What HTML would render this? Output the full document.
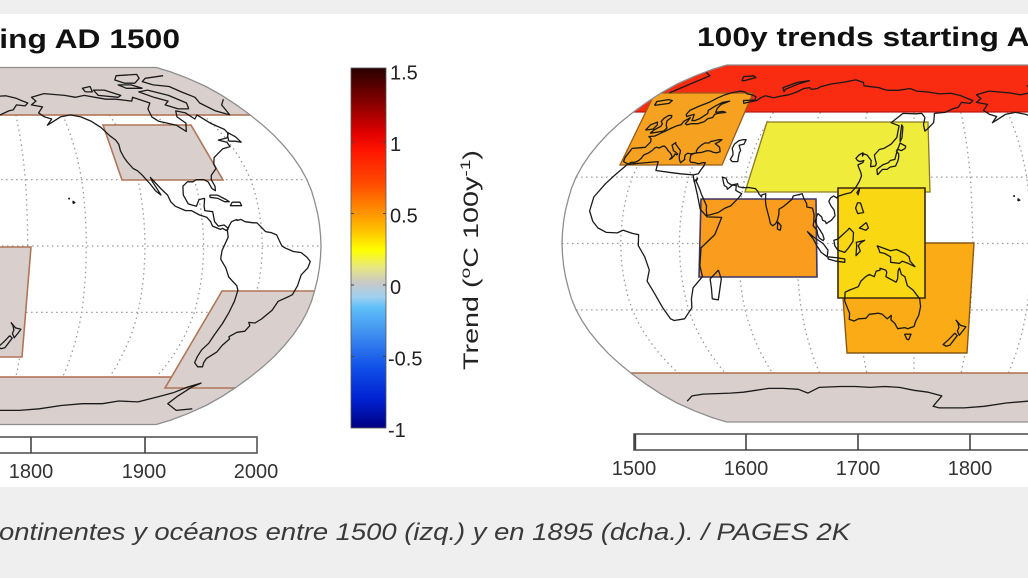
<!DOCTYPE html>
<html>
<head>
<meta charset="utf-8">
<style>
html,body{margin:0;padding:0;background:#fff;}
body{width:1028px;height:578px;overflow:hidden;}
svg{display:block;}
text{font-family:"Liberation Sans",Arial,sans-serif;}
</style>
</head>
<body>
<svg width="1028" height="578" viewBox="0 0 1028 578" xmlns="http://www.w3.org/2000/svg">
<defs>
  <clipPath id="robclip" clipPathUnits="userSpaceOnUse">
    <path d="M -187.3,-178.5 L 187.3,-178.5 L 201.4,-174.2 L 218.7,-167.7 L 237,-159.5 L 252.9,-150.6 L 267.4,-141.1 L 281.1,-131.1 L 293.9,-120.8 L 305.5,-110.2 L 315.5,-99.4 L 324.4,-88.5 L 331.8,-77.5 L 337.9,-66.4 L 342.5,-55.3 L 345.7,-44.3 L 348.5,-33.2 L 350.4,-22.1 L 351.5,-11.1 L 352,0 L 351.5,11.1 L 350.4,22.1 L 348.5,33.2 L 345.7,44.3 L 342.5,55.3 L 337.9,66.4 L 331.8,77.5 L 324.4,88.5 L 315.5,99.4 L 305.5,110.2 L 293.9,120.8 L 281.1,131.1 L 267.4,141.1 L 252.9,150.6 L 237,159.5 L 218.7,167.7 L 201.4,174.2 L 187.3,178.5 L -187.3,178.5 L -201.4,174.2 L -218.7,167.7 L -237,159.5 L -252.9,150.6 L -267.4,141.1 L -281.1,131.1 L -293.9,120.8 L -305.5,110.2 L -315.5,99.4 L -324.4,88.5 L -331.8,77.5 L -337.9,66.4 L -342.5,55.3 L -345.7,44.3 L -348.5,33.2 L -350.4,22.1 L -351.5,11.1 L -352,0 L -351.5,-11.1 L -350.4,-22.1 L -348.5,-33.2 L -345.7,-44.3 L -342.5,-55.3 L -337.9,-66.4 L -331.8,-77.5 L -324.4,-88.5 L -315.5,-99.4 L -305.5,-110.2 L -293.9,-120.8 L -281.1,-131.1 L -267.4,-141.1 L -252.9,-150.6 L -237,-159.5 L -218.7,-167.7 L -201.4,-174.2 Z"/>
  </clipPath>
  <path id="outline" d="M -187.3,-178.5 L 187.3,-178.5 L 201.4,-174.2 L 218.7,-167.7 L 237,-159.5 L 252.9,-150.6 L 267.4,-141.1 L 281.1,-131.1 L 293.9,-120.8 L 305.5,-110.2 L 315.5,-99.4 L 324.4,-88.5 L 331.8,-77.5 L 337.9,-66.4 L 342.5,-55.3 L 345.7,-44.3 L 348.5,-33.2 L 350.4,-22.1 L 351.5,-11.1 L 352,0 L 351.5,11.1 L 350.4,22.1 L 348.5,33.2 L 345.7,44.3 L 342.5,55.3 L 337.9,66.4 L 331.8,77.5 L 324.4,88.5 L 315.5,99.4 L 305.5,110.2 L 293.9,120.8 L 281.1,131.1 L 267.4,141.1 L 252.9,150.6 L 237,159.5 L 218.7,167.7 L 201.4,174.2 L 187.3,178.5 L -187.3,178.5 L -201.4,174.2 L -218.7,167.7 L -237,159.5 L -252.9,150.6 L -267.4,141.1 L -281.1,131.1 L -293.9,120.8 L -305.5,110.2 L -315.5,99.4 L -324.4,88.5 L -331.8,77.5 L -337.9,66.4 L -342.5,55.3 L -345.7,44.3 L -348.5,33.2 L -350.4,22.1 L -351.5,11.1 L -352,0 L -351.5,-11.1 L -350.4,-22.1 L -348.5,-33.2 L -345.7,-44.3 L -342.5,-55.3 L -337.9,-66.4 L -331.8,-77.5 L -324.4,-88.5 L -315.5,-99.4 L -305.5,-110.2 L -293.9,-120.8 L -281.1,-131.1 L -267.4,-141.1 L -252.9,-150.6 L -237,-159.5 L -218.7,-167.7 L -201.4,-174.2 Z"/>
  <path id="mer" d="M 281.1,-131.1 L 293.9,-120.8 L 305.5,-110.2 L 315.5,-99.4 L 324.4,-88.5 L 331.8,-77.5 L 337.9,-66.4 L 342.5,-55.3 L 345.7,-44.3 L 348.5,-33.2 L 350.4,-22.1 L 351.5,-11.1 L 352,0 L 351.5,11.1 L 350.4,22.1 L 348.5,33.2 L 345.7,44.3 L 342.5,55.3 L 337.9,66.4 L 331.8,77.5 L 324.4,88.5 L 315.5,99.4 L 305.5,110.2 L 293.9,120.8 L 281.1,131.1" fill="none" stroke="#9a9a9a" stroke-width="1.3" stroke-dasharray="1.5 3.5" vector-effect="non-scaling-stroke"/>
  <g id="grat" fill="none" stroke="#9a9a9a" stroke-width="1.3" stroke-dasharray="1.5 3.5">
    <line x1="-352" y1="0" x2="352" y2="0"/>
    <line x1="-337.9" y1="-66.4" x2="337.9" y2="-66.4"/>
    <line x1="-337.9" y1="66.4" x2="337.9" y2="66.4"/>
    <line x1="0" y1="-131.1" x2="0" y2="131.1"/>
    <use href="#mer" transform="scale(0.16667,1)"/>
    <use href="#mer" transform="scale(0.33333,1)"/>
    <use href="#mer" transform="scale(0.5,1)"/>
    <use href="#mer" transform="scale(0.66667,1)"/>
    <use href="#mer" transform="scale(0.83333,1)"/>
    <use href="#mer" transform="scale(-0.16667,1)"/>
    <use href="#mer" transform="scale(-0.33333,1)"/>
    <use href="#mer" transform="scale(-0.5,1)"/>
    <use href="#mer" transform="scale(-0.66667,1)"/>
    <use href="#mer" transform="scale(-0.83333,1)"/>
  </g>
  <linearGradient id="cbar" x1="0" y1="0" x2="0" y2="1">
    <stop offset="0" stop-color="#2a0000"/>
    <stop offset="0.09" stop-color="#800000"/>
    <stop offset="0.18" stop-color="#e00000"/>
    <stop offset="0.228" stop-color="#ff1400"/>
    <stop offset="0.320" stop-color="#ff4a00"/>
    <stop offset="0.394" stop-color="#ff8c00"/>
    <stop offset="0.45" stop-color="#ffc000"/>
    <stop offset="0.506" stop-color="#ffff00"/>
    <stop offset="0.553" stop-color="#e8e880"/>
    <stop offset="0.597" stop-color="#c8c8c8"/>
    <stop offset="0.636" stop-color="#a0d0f0"/>
    <stop offset="0.664" stop-color="#60c0f8"/>
    <stop offset="0.736" stop-color="#4090f0"/>
    <stop offset="0.831" stop-color="#1050e8"/>
    <stop offset="0.922" stop-color="#0020d0"/>
    <stop offset="1" stop-color="#000080"/>
  </linearGradient>
</defs>

<!-- background strips -->
<rect x="0" y="0" width="1028" height="14" fill="#efefef"/>
<rect x="0" y="14" width="1028" height="473" fill="#ffffff"/>
<rect x="0" y="487" width="1028" height="91" fill="#efefef"/>

<!-- titles -->
<text x="-255" y="48" font-size="27" font-weight="bold" fill="#111" textLength="435" lengthAdjust="spacingAndGlyphs">100y trends starting AD 1500</text>
<text x="697" y="46" font-size="27" font-weight="bold" fill="#111" textLength="435" lengthAdjust="spacingAndGlyphs">100y trends starting AD 1895</text>

<!-- LEFT MAP -->
<g transform="translate(-31,246)">
  <g clip-path="url(#robclip)">
    <use href="#grat"/>
    <g fill="#d9d0cd" stroke="#b07558" stroke-width="1.6">
      <rect x="-400" y="-182" width="800" height="51"/>
      <polygon points="134,-121 222,-121 254,-66 153,-66"/>
      <rect x="-400" y="131" width="800" height="52"/>
      <polygon points="253,45 451,45 451,142 196,142"/>
      <polygon points="-29,1 62,1 53,111 -29,111"/>
    </g>
    <path id="coastL" d="" fill="none" stroke="#1a1a1a" stroke-width="1.3" stroke-linejoin="round"/>
  </g>
  <use href="#outline" fill="none" stroke="#8e8e8e" stroke-width="1.3"/>
</g>

<!-- RIGHT MAP -->
<g transform="translate(914,243.5)">
  <g clip-path="url(#robclip)">
    <use href="#grat"/>
    <rect x="-400" y="-182" width="800" height="50.5" fill="#f92b10" stroke="#b01a10" stroke-width="1.2"/>
    <polygon points="-259,-150.5 -161,-150.5 -192,-78.5 -294,-78.5" fill="#f6a11f" stroke="#9a5a1a" stroke-width="1.3"/>
    <polygon points="-147,-121.5 14,-121.5 16,-51.5 -169,-51.5" fill="#efec3c" stroke="#8a7a20" stroke-width="1.3"/>
    <polygon points="-213,-44.5 -98,-44.5 -97,33.5 -215,33.5" fill="#fa9c1e" stroke="#3e3566" stroke-width="1.6"/>
    <polygon points="-75,-0.5 60,-0.5 53,109.5 -67,109.5" fill="#fbab16" stroke="#8a5a14" stroke-width="1.4"/>
    <polygon points="-76,-55.5 11,-55.5 11,54.5 -76,54.5" fill="#f9d712" stroke="#3a2810" stroke-width="1.6"/>
    <rect x="-400" y="129.5" width="800" height="52" fill="#d9d0cd" stroke="#b07558" stroke-width="1.6"/>
    <path id="coastR" d="" fill="none" stroke="#1a1a1a" stroke-width="1.3" stroke-linejoin="round"/>
  </g>
  <use href="#outline" fill="none" stroke="#8e8e8e" stroke-width="1.3"/>
</g>

<!-- colorbar -->
<rect x="351" y="68" width="35" height="360" fill="url(#cbar)" stroke="#555" stroke-width="0.8"/>
<g stroke="#444" stroke-width="1">
  <line x1="351" y1="142" x2="354" y2="142"/><line x1="383" y1="142" x2="386" y2="142"/>
  <line x1="351" y1="213.5" x2="354" y2="213.5"/><line x1="383" y1="213.5" x2="386" y2="213.5"/>
  <line x1="351" y1="285" x2="354" y2="285"/><line x1="383" y1="285" x2="386" y2="285"/>
  <line x1="351" y1="356.5" x2="354" y2="356.5"/><line x1="383" y1="356.5" x2="386" y2="356.5"/>
</g>
<g font-size="20" fill="#222">
  <text x="390" y="79.5">1.5</text>
  <text x="390" y="151">1</text>
  <text x="390" y="222.5">0.5</text>
  <text x="390" y="294">0</text>
  <text x="388" y="365.5">-0.5</text>
  <text x="388" y="437">-1</text>
</g>
<text transform="translate(478,370) rotate(-90)" font-size="21" fill="#222" textLength="220" lengthAdjust="spacingAndGlyphs">Trend (<tspan font-size="14" dy="-8">o</tspan><tspan dy="8">C 100y</tspan><tspan font-size="14" dy="-8">-1</tspan><tspan dy="8">)</tspan></text>

<!-- timelines -->
<g fill="#fff" stroke="#555" stroke-width="1.6">
  <rect x="-320" y="437" width="577" height="16"/>
  <rect x="634" y="434" width="480" height="16"/>
</g>
<g stroke="#444" stroke-width="1.6">
  <line x1="31" y1="437" x2="31" y2="453"/>
  <line x1="145" y1="437" x2="145" y2="453"/>
  <line x1="635" y1="434" x2="635" y2="450" stroke-width="2.4"/>
  <line x1="746" y1="434" x2="746" y2="450"/>
  <line x1="858" y1="434" x2="858" y2="450"/>
  <line x1="970" y1="434" x2="970" y2="450"/>
</g>
<g font-size="20" fill="#333" text-anchor="middle">
  <text x="31" y="478">1800</text>
  <text x="144" y="478">1900</text>
  <text x="256" y="478">2000</text>
  <text x="634" y="475">1500</text>
  <text x="746" y="475">1600</text>
  <text x="858" y="475">1700</text>
  <text x="970" y="475">1800</text>
</g>

<!-- caption -->
<text x="-1" y="540" font-size="24" font-style="italic" fill="#3a3a3a" textLength="851" lengthAdjust="spacingAndGlyphs">ontinentes y océanos entre 1500 (izq.) y en 1895 (dcha.). / PAGES 2K</text>
</svg>

<script>
(function(){
var XT=[1,0.9986,0.9954,0.99,0.9822,0.973,0.96,0.9427,0.9216,0.8962,0.8679,0.835,0.7986,0.7597,0.7186,0.6732,0.6213,0.5722,0.5322];
var YT=[0,0.062,0.124,0.186,0.248,0.31,0.372,0.434,0.4958,0.5571,0.6176,0.6769,0.7346,0.7903,0.8435,0.8936,0.9394,0.9761,1];
function rob(lat,lon){
  var a=Math.min(Math.abs(lat),90)/5;var i=Math.min(Math.floor(a),17);var f=a-i;
  var X=XT[i]+(XT[i+1]-XT[i])*f;var Y=YT[i]+(YT[i+1]-YT[i])*f;
  var d=(((lon-150)%360)+540)%360-180;
  return [352*X*d/180,-(lat<0?-1:1)*178.5*Y,d];
}
var P=[
[[71,-156],[70,-142],[69,-135],[70,-128],[68,-115],[68,-108],[67,-98],[69,-95],[66,-87],[63,-92],[59,-94],[57,-92],[55,-83],[52,-80],[56,-76],[59,-78],[62,-75],[61,-70],[58,-68],[60,-64],[56,-61],[53,-56],[51,-56],[49,-59],[48,-65],[47,-61],[45,-61],[44,-66],[42,-70],[41,-72],[40,-74],[37,-76],[35,-76],[32,-80],[30,-81],[27,-80],[25,-80.5],[26,-82],[29,-83],[30,-85],[30,-89],[29,-91],[29,-94],[27,-97],[23,-97.8],[19,-96],[18.5,-94],[18,-92],[21,-90],[21.5,-87],[18,-88],[16,-88],[15.5,-84],[11,-83.7],[9,-82],[9.5,-79],[8,-77],[7,-78],[8,-80],[7.5,-81],[9,-85],[11,-85.7],[13,-87.5],[14,-91],[16,-95],[16,-98],[18,-103],[20,-105],[23,-106],[26,-109],[31,-113],[29,-112.5],[25,-110.5],[23,-109.5],[25,-112],[28,-114],[32,-117],[34,-119],[35,-121],[38,-123],[40,-124],[43,-124.5],[46,-124],[48,-124.7],[50,-127],[54,-130],[57,-134],[59,-139],[60,-145],[59,-152],[57,-157],[55,-162],[58,-158],[59,-162],[61,-165],[64,-161],[65,-168],[67,-164],[69,-166],[71,-156]],
[[60,-43],[65,-40],[68,-33],[70,-24],[75,-20],[80,-18],[83,-30],[82,-45],[80,-65],[78,-72],[76,-68],[75,-58],[72,-55],[69,-51],[66,-53],[62,-49],[60,-43]],
[[63,-65],[66,-62],[70,-68],[73,-78],[72,-86],[69,-80],[67,-73],[65,-78],[63,-72],[63,-65]],
[[69,-105],[70,-118],[73,-118],[73,-110],[70,-102],[69,-105]],
[[77,-80],[80,-70],[83,-65],[82,-85],[79,-92],[77,-88],[77,-80]],
[[72,-125],[74,-125],[75,-118],[72,-120],[72,-125]],
[[74,-80],[76,-85],[76,-95],[74,-92],[74,-80]],
[[47.5,-59.3],[49.5,-58],[51.5,-55.8],[49.5,-53.5],[47,-52.7],[47.5,-55.7],[47.5,-59.3]],
[[23,-84],[23,-80],[21,-76],[20,-74.5],[20,-77],[21.5,-80],[22,-84],[23,-84]],
[[19.8,-73],[19.8,-69],[18.2,-68.5],[18.2,-74.3],[19.8,-73]],
[[12,-72],[11,-75],[9,-76.5],[7,-77.5],[4,-77.3],[1,-79],[-2,-80.5],[-5,-81],[-6,-81],[-10,-78],[-14,-76],[-18,-71],[-20,-70],[-25,-70.5],[-30,-71.5],[-35,-72.5],[-40,-73.7],[-44,-74],[-47,-75.5],[-50,-75.3],[-53,-74],[-55,-70],[-55,-67],[-53,-68.5],[-51,-69],[-48,-65.8],[-45,-65.5],[-42,-63.8],[-41,-65],[-39,-62],[-38.5,-58],[-36,-57],[-34.5,-58.5],[-34.8,-55],[-33,-52.5],[-29,-49],[-25,-47.5],[-23,-43],[-22,-41],[-18,-39.5],[-13,-38.8],[-10,-36],[-7,-35],[-5,-37],[-3,-40],[-2.5,-44],[-1,-48],[0,-50],[2,-51],[5,-52.5],[6,-55],[6.5,-58],[8.5,-60],[10.5,-62],[10.5,-64],[11,-68],[12,-70],[11.5,-72],[12,-72]],
[[-65,-60],[-70,-62],[-74,-61],[-78,-45],[-77,-35],[-74,-20],[-71,-10],[-70,0],[-69.5,20],[-69,30],[-68,40],[-67,50],[-67,60],[-67.5,70],[-69.5,75],[-66.5,85],[-66,100],[-66,110],[-66.5,120],[-66,130],[-66.5,140],[-68,150],[-69,160],[-71,170],[-77,165],[-78,170],[-78,180],[-78,-170],[-77,-155],[-75,-140],[-74,-125],[-74,-110],[-72.5,-100],[-73,-85],[-70,-75],[-68,-68],[-65,-63],[-63,-57],[-65,-60]],
[[35.8,-5.9],[37,10],[33,11],[32,20],[31.5,25],[31,32],[29.9,32.5],[22,36.8],[15.5,39.5],[12,43.5],[11.8,51],[4,48],[-2,41],[-10,40],[-15,40.7],[-20,35],[-25,33],[-29,32],[-34,26],[-34.8,20],[-34,18.4],[-29,16.5],[-22,14],[-17,11.7],[-12,13.7],[-6,12],[-1,9],[4,9],[4.5,6],[6,1],[4.8,-2],[5,-7.5],[7,-12],[10,-15],[14.7,-17.5],[21,-17],[27,-13],[31,-9.8],[35.8,-5.9]],
[[-12,49.3],[-16,50.3],[-25.5,47],[-25,44],[-20,44.5],[-16,44.5],[-12,49.3]],
[[36,-6],[37,-9],[39,-9.5],[43,-9],[43.5,-2],[46,-1.2],[47.5,-2.5],[48.5,-4.7],[48.7,-1.5],[49.5,0],[50.5,1.5],[51,2.5],[52.5,4.5],[53.5,6.5],[54,8.5],[55.5,8.2],[57.5,10],[56,10.5],[54.5,10.5],[54,12],[54.5,14],[54.5,18],[55.5,21],[57,21.5],[57.5,24],[59,23.5],[59.5,25],[60,29.5],[60.5,27],[60,23],[62,21.5],[64,21.5],[65.7,25],[65,21],[63,18.5],[61,17],[59.5,18.5],[57,16.5],[56,14.5],[56,12.8],[57.5,11.8],[59,10.5],[58,7],[59,5.5],[61,5],[63,8],[65,12],[67.5,14.5],[69,17],[70,20],[71,25],[70.5,29],[69.5,32],[69,36],[68,40],[66.3,41.5],[66,34],[64.5,36],[65,38],[66,43],[67.5,44],[68.5,46],[67.5,53],[68.5,58],[69,62],[70.5,66],[72.5,69],[73,73],[72,75],[72.5,79],[73.5,80.5],[75,87],[76,95],[77.5,104],[76,111],[74,112.5],[73.5,118],[73,124],[72,128],[71.5,131],[71.5,139],[72.5,147],[71,152],[70.5,160],[69.5,168],[69.8,176],[68.5,-177],[67,-173],[66,-170],[64.5,-172.5],[65,-178],[62.5,179],[62,176],[60,170],[59.5,163],[57,162.5],[55,162],[52,158],[51,156.5],[54,155.8],[57.5,156.8],[59.5,155],[59.3,151],[59.5,143],[55,136],[53.5,141],[51,140.5],[48,140],[45,137],[43,133],[42.5,130.5],[40,128],[38.5,128.5],[36,129.5],[35,129],[34.7,126.5],[36.5,126.5],[37.5,126.5],[39,125],[40,124],[40.5,122],[39.5,121.5],[41,121.5],[40,119.5],[38.5,118],[37.5,119],[37,120.5],[37.5,122.5],[36.5,122],[35.5,119.5],[34.5,120],[32,121.5],[30.5,122],[28,121],[25.5,119.5],[23,117],[22.5,114.5],[21.5,111],[21,110],[20.5,109.8],[21.5,108],[20.5,106.5],[19,105.7],[17,107],[15,108.8],[12.5,109.3],[10.5,107.5],[9,105],[10,104.5],[10.5,103],[12,102.5],[13.5,100.5],[12.5,100],[10,99.2],[8,100.3],[6.5,101.5],[4,103.3],[2,104],[1.3,103.5],[2.5,101.5],[4,100.7],[6,100.3],[8,98.3],[10,98.5],[13,98.5],[16,97.5],[16.5,94.5],[18,94.3],[20.5,92.5],[22.5,91.5],[22,89.5],[21.5,87],[20,86.5],[18,84],[16.5,82],[15.5,80.2],[13,80.3],[10.5,79.8],[9,79],[8,77.5],[9,76.3],[11.5,75.5],[14,74.5],[17,73.3],[19,72.8],[21,72.6],[22.5,72.5],[22,70.5],[21,70.5],[22.5,68.8],[23.5,68.2],[24.8,66.7],[25.3,63],[25.2,60],[25.7,57.5],[27,56.8],[26.5,54.5],[24.5,52],[25.5,51.5],[26.2,50],[27,49.5],[29,48.5],[30,48],[29.5,50],[27.5,51.5],[26.5,53.5],[26.3,56.3],[24,56.5],[22.5,59.8],[20.5,58.5],[18.5,56.5],[17,55],[16,52.2],[14,49],[13,45],[12.7,43.3],[15,42.7],[17,42.5],[20,40.5],[22,39],[24.5,37.5],[27,35.5],[28,34.6],[29.5,34.9],[28,33.5],[30,32.5],[31,32],[31.5,34.5],[33,35],[35,36],[36.5,36],[36.5,34.5],[36,32.5],[36.5,30.5],[36.7,28],[37.5,27],[39,26.5],[40,26.2],[40.5,27],[41,29],[41.2,31.5],[42,34],[41.8,36],[41.2,38],[41,40],[41.5,41.5],[43.5,40],[44.5,38],[45.2,36.5],[46,38],[47,39],[47,37],[46.5,35],[46.2,33],[45.5,32.8],[45.5,30.2],[44.5,29],[43,28],[41.8,28],[41,28.9],[40.5,26],[40.8,24],[40,23],[38.5,23.5],[38,24],[37,23],[36.5,22.5],[38,21],[39.5,20],[41,19.5],[42,19],[43.5,16.5],[45,14],[45.7,13.5],[44.5,12.3],[43.5,13.5],[42,15],[41.5,16.3],[40.5,18.5],[40,18.3],[40.5,17],[39.5,17],[38.5,16.5],[38,15.7],[39,16.2],[40,15.5],[41,14],[42,12],[43,10.5],[44,8.5],[44,7.5],[43.2,6],[43.5,4.5],[43.2,3.5],[42.3,3.2],[41,2],[40,0],[38.5,-0.3],[37.5,-1],[36.7,-2.5],[36.7,-4.5],[36,-5.6],[36,-6]],
[[47,51],[46.5,49],[45,47.5],[43,47.5],[41,49],[40,49.5],[38,49],[37,50.5],[37,53.5],[39,53],[41,52.5],[42,52.7],[44.5,50.5],[45,53],[47,53],[47,51]],
[[50,-5.5],[51,1.3],[52.5,1.7],[53.5,0],[55,-1.5],[56,-2.5],[57.5,-1.8],[58.5,-3],[58.5,-5],[57,-6],[55.5,-5.5],[54.5,-3.5],[53.3,-3],[52.5,-4],[51.5,-5],[50,-5.5]],
[[51.5,-10],[54,-10],[55.3,-7.5],[54,-6],[52,-6],[51.5,-10]],
[[63.5,-22],[64.5,-14],[66,-14.5],[66.5,-18],[65.5,-24],[64,-22.5],[63.5,-22]],
[[77,15],[79.5,11],[80,18],[79,22],[77,17],[77,15]],
[[70.5,57],[73,53],[76,60],[77,68],[75,62],[72,56],[70.5,57]],
[[9.8,80],[8,81.8],[6,81.5],[6.5,80],[9.8,80]],
[[31,130.5],[33.5,130],[34.5,131.5],[35.5,133],[36.5,136],[37.5,137],[38,139.5],[40,140],[41.5,140.5],[40.5,141.5],[38.5,141.5],[37,141],[35,140],[34.5,137],[33.5,135.5],[33.5,133],[32.5,132],[31,130.5]],
[[41.5,140],[43.5,141.3],[45.5,142],[44,145.3],[43,145],[42,143],[42.5,141],[41.5,140]],
[[46,142],[49,142],[54,142.5],[53,143.3],[48,143],[46,142]],
[[25,121.5],[22,120.8],[23,120.1],[25,121.5]],
[[18.5,120.7],[18.3,122.2],[14,124],[13.5,121],[16,119.8],[18.5,120.7]],
[[9.5,125.5],[7,126.6],[6,125.3],[7,122],[8,123.5],[9.5,125.5]],
[[7,116.8],[5,119],[1,118.8],[-2,116.5],[-4,114.5],[-3,111],[-1,109.5],[1.5,109],[2,111],[4,113.5],[6,116],[7,116.8]],
[[5.5,95.3],[3,98.5],[0,103.5],[-3,106],[-6,105.5],[-4,102.5],[-1,100.3],[2,98.5],[5.5,95.3]],
[[-6,106],[-6.5,111],[-7,114.5],[-8.5,114.5],[-8,110],[-7,106],[-6,106]],
[[1.5,125],[0.5,120.5],[-1,120.7],[-5.5,120.3],[-3.5,122.5],[-1,121.5],[0.5,123],[1.5,125]],
[[-1,131],[-2,134],[-3.3,138],[-2.7,141],[-4.5,145.5],[-6,147.5],[-8,148],[-10.5,150.5],[-9,147],[-8,144],[-9,142.5],[-8.5,138],[-6,138],[-4.5,135],[-4,132.5],[-2.5,132],[-1,131]],
[[-11,142.5],[-14,143.5],[-15,145.3],[-19,146.5],[-21,149.5],[-25,153],[-28.5,153.5],[-32.5,152.5],[-35,151],[-37.5,150],[-38.5,146.5],[-38,145],[-38.5,141],[-36,139.5],[-35,138.2],[-34.5,137.5],[-32.5,137.8],[-34,135.5],[-32,133],[-31.5,131],[-32,126],[-33.8,124],[-34,120],[-35,117.5],[-34.3,115],[-31.5,115.5],[-28,114.2],[-26,113.5],[-22,114],[-21,116.5],[-19.5,121],[-17,122.5],[-15,125],[-14,127],[-15,129.5],[-12.5,130.5],[-12,132.5],[-11.2,132.5],[-12,135.5],[-13,136],[-15,135.5],[-17.5,140.7],[-16,141.5],[-12.5,141.8],[-11,142.5]],
[[-41,144.7],[-41,148.3],[-43.5,147],[-43.3,146],[-41,144.7]],
[[-34.5,172.7],[-37,175.5],[-37.6,178.5],[-39.5,177],[-41.5,175.3],[-39.5,174],[-38,174.7],[-36,174],[-34.5,172.7]],
[[-40.5,172.7],[-41.7,174.2],[-43.5,172.7],[-46,170.7],[-46.5,168.5],[-45.7,166.7],[-43.5,169.5],[-41.7,171.5],[-40.5,172.7]],
[[19.2,-155.9],[20.2,-155.8],[19.6,-154.9],[19.2,-155.9]],
[[21.3,-158.2],[21.6,-157.7],[21.3,-157.6],[21.3,-158.2]]
];
var s="";
for(var k=0;k<P.length;k++){
  var poly=P[k];var prev=null;
  for(var j=0;j<poly.length;j++){
    var p=rob(poly[j][0],poly[j][1]);
    if(prev===null||Math.abs(p[2]-prev[2])>180){s+="M"+p[0].toFixed(1)+","+p[1].toFixed(1);}
    else{s+="L"+p[0].toFixed(1)+","+p[1].toFixed(1);}
    prev=p;
  }
}
document.getElementById("coastL").setAttribute("d",s);
document.getElementById("coastR").setAttribute("d",s);
})();
</script>
</body>
</html>
